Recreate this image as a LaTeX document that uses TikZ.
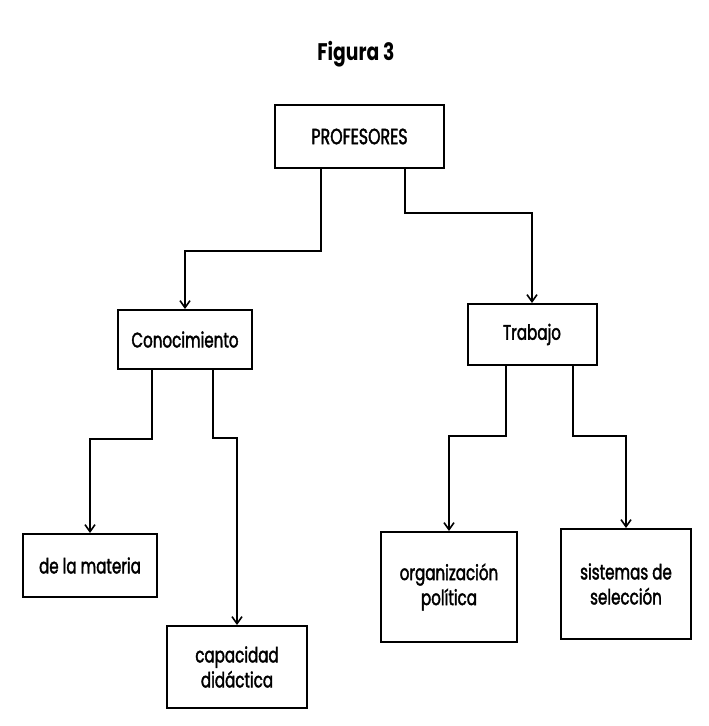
\documentclass[tikz,border=0pt]{standalone}
\usepackage{fontspec}
\setmainfont[FakeStretch=0.72,FakeBold=1.8]{Poppins}
\newfontfamily\titlefont[FakeStretch=0.78]{Poppins}
\usetikzlibrary{arrows.meta}
\begin{document}
\begin{tikzpicture}[x=1pt,y=-1pt,
  box/.style={draw=black,line width=2pt,rectangle,inner sep=2pt,align=center,
              font=\fontsize{21}{25}\selectfont},
  arr/.style={draw=black,line width=2pt,-{Straight Barb[length=7pt,width=10pt,line width=1.6pt]}}]
  \useasboundingbox[fill=white] (0,0) rectangle (709,726);

  \node[font=\titlefont\fontsize{24}{27}\selectfont\bfseries] (title) at (356,54) {Figura 3};

  \node[box,minimum width=169pt,minimum height=63pt,font=\fontsize{22}{25}\selectfont] (prof) at (359.5,136.5) {PROFESORES};
  \node[box,minimum width=134pt,minimum height=59pt] (con) at (185,339.5) {Conocimiento};
  \node[box,minimum width=129pt,minimum height=61pt] (trab) at (532,334.5) {Trabajo};
  \node[box,minimum width=134pt,minimum height=63pt] (mat) at (90,565.5) {de la materia};
  \node[box,minimum width=140pt,minimum height=82pt] (cap) at (237,667) {capacidad\\didáctica};
  \node[box,minimum width=136pt,minimum height=110pt] (org) at (449,587) {organización\\política};
  \node[box,minimum width=130pt,minimum height=110pt] (sis) at (626,584) {sistemas de\\selección};

  \draw[arr] ([xshift=-38.5pt]prof.south) -- ++(0,82) -| (con.north);
  \draw[arr] ([xshift=45.5pt]prof.south) -- ++(0,44) -| (trab.north);
  \draw[arr] ([xshift=-33pt]con.south) -- ++(0,69) -| (mat.north);
  \draw[arr] ([xshift=28pt]con.south) -- ++(0,68) -| (cap.north);
  \draw[arr] ([xshift=-26pt]trab.south) -- ++(0,70) -| (org.north);
  \draw[arr] ([xshift=41pt]trab.south) -- ++(0,70) -| (sis.north);
\end{tikzpicture}
\end{document}
